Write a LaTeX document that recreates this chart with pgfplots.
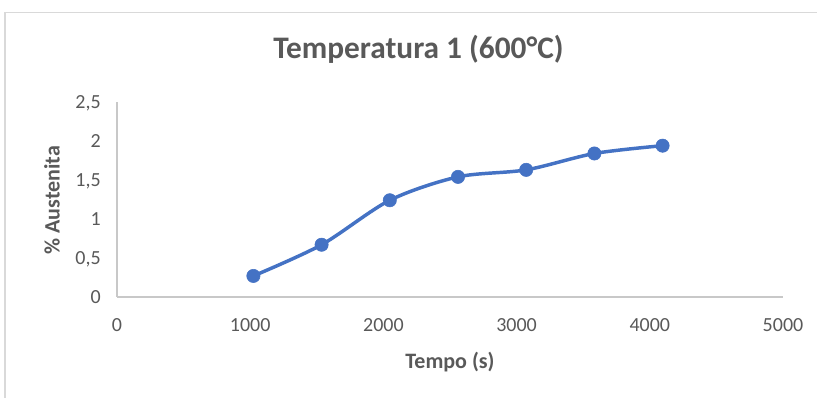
\documentclass[border=0pt]{standalone}
\usepackage{pgfplots}
\pgfplotsset{compat=1.18}
\usepackage{fontspec}
\setmainfont{Carlito}

\definecolor{serieblue}{HTML}{4472C4}
\definecolor{textgray}{HTML}{595959}
\definecolor{axisgray}{HTML}{C8C8C8}
\definecolor{framegray}{HTML}{D9D9D9}

\begin{document}
\begin{tikzpicture}[x=0.75pt,y=0.75pt]
  % canvas 817 x 398 px (1 px = 0.75 pt)
  \useasboundingbox (0,0) rectangle (817,398);
  \fill[white] (0,0) rectangle (817,398);
  % chart area border
  \draw[framegray, line width=0.9pt] (5,0) -- (5,385.5) -- (817,385.5);

  \begin{axis}[
    at={(87.75pt,75.75pt)}, anchor=south west,
    scale only axis,
    width=499.5pt, height=146.25pt,
    xmin=0, xmax=5000, ymin=0, ymax=2.5,
    xtick={0,1000,...,5000},
    ytick={0,0.5,...,2.5},
    axis lines=left,
    axis line style={-, draw=axisgray, line width=1pt},
    major tick length=0pt,
    clip=false,
    /pgf/number format/assume math mode=true,
    /pgf/number format/use comma,
    /pgf/number format/1000 sep={},
    tick label style={font=\fontsize{15pt}{18pt}\selectfont, text=textgray},
    yticklabel style={anchor=east, inner sep=0pt, xshift=-12pt, text depth=0pt},
    xticklabel style={anchor=north, inner sep=0pt, yshift=-16pt},
    title={Temperatura 1 (600°C)},
    title style={at={(axis description cs:0.4527,1.18)}, anchor=base,
      inner sep=0pt, font=\fontsize{23.5pt}{27pt}\selectfont\bfseries, text=textgray},
    xlabel={Tempo (s)},
    xlabel style={at={(axis description cs:0.5,-0.335)}, anchor=center,
      font=\fontsize{16.5pt}{20pt}\selectfont\bfseries, text=textgray},
    ylabel={\% Austenita},
    ylabel style={at={(axis description cs:-0.0976,0.497)}, anchor=center,
      rotate=0, font=\fontsize{16.5pt}{20pt}\selectfont\bfseries, text=textgray},
  ]
    \addplot[serieblue, line width=2.6pt, smooth, tension=0.5,
      mark=*, mark size=5pt, mark options={solid, fill=serieblue, draw=serieblue, line width=0.4pt}]
      coordinates {
        (1024,0.27) (1536,0.67) (2048,1.24) (2560,1.54)
        (3072,1.63) (3584,1.84) (4096,1.94)
      };
  \end{axis}
\end{tikzpicture}
\end{document}
